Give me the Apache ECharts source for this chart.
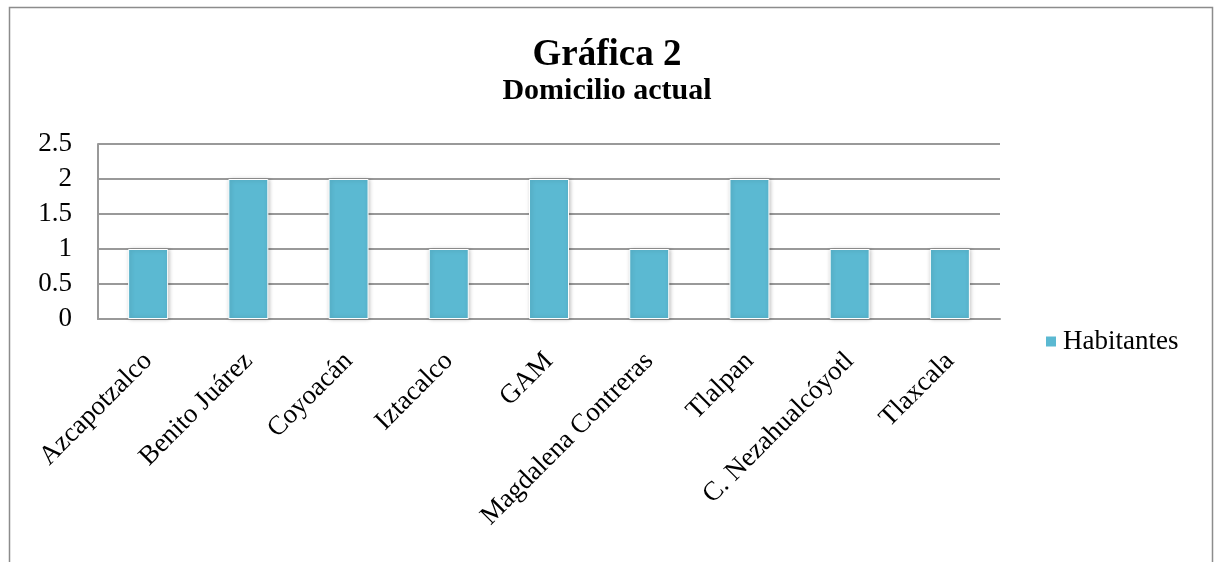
<!DOCTYPE html>
<html><head><meta charset="utf-8">
<script src="https://cdn.jsdelivr.net/npm/echarts@6/dist/echarts.min.js"></script>
<style>html,body{margin:0;padding:0;background:#fff}#c{width:1214px;height:562px}</style>
</head><body><div id="c"></div>
<script>
const categories = ['Azcapotzalco','Benito Juárez','Coyoacán','Iztacalco','GAM','Magdalena Contreras','Tlalpan','C. Nezahualcóyotl','Tlaxcala'];
const habitantes = [1,2,2,1,2,1,2,1,1];
const seriesName = 'Habitantes';
const titleText = 'Gráfica 2';
const subtitleText = 'Domicilio actual';
const FONT = '"Liberation Serif", "DejaVu Serif", serif';
const chart = echarts.init(document.getElementById('c'));
chart.setOption({
  animation: false,
  graphic: [{type:'rect', shape:{x:9.5,y:7.5,width:1203,height:600}, style:{fill:'none', stroke:'#8c8c8c', lineWidth:1.5}}],
  title: {text: titleText, subtext: subtitleText, left: 'center', top: 37, itemGap: 2, padding: 0,
    textStyle:{fontFamily:FONT, fontSize:37, fontWeight:'bold', color:'#000'},
    subtextStyle:{fontFamily:FONT, fontSize:30, fontWeight:'bold', color:'#000'}},
  legend: {data:[seriesName], left: 1044, top: 328, padding: 0, itemWidth: 12, itemHeight: 12, itemGap: 7,
    textStyle:{fontFamily:FONT, fontSize:27, color:'#000', padding:[0,0,0,1]}, icon:'rect'},
  grid: {left: 98, right: 214, top: 144, bottom: 243, containLabel: false},
  xAxis: {type:'category', data: categories,
    axisLine:{lineStyle:{color:'#999', width:2}}, axisTick:{show:false},
    axisLabel:{rotate:45, interval:0, fontFamily:FONT, fontSize:27, color:'#000', margin:38}},
  yAxis: {type:'value', min:0, max:2.5, interval:0.5,
    axisLine:{show:true, lineStyle:{color:'#999', width:2}}, axisTick:{show:false},
    splitLine:{lineStyle:{color:'#999', width:2}},
    axisLabel:{fontFamily:FONT, fontSize:27, color:'#000', margin:26}},
  series: [{name: seriesName, type:'bar', data: habitantes, barWidth: 40,
    itemStyle:{color:'#5bb9d2', borderColor:'#fff', borderWidth:1, shadowColor:'rgba(0,0,0,0.25)', shadowBlur:4, shadowOffsetX:1}}]
});
</script></body></html>
